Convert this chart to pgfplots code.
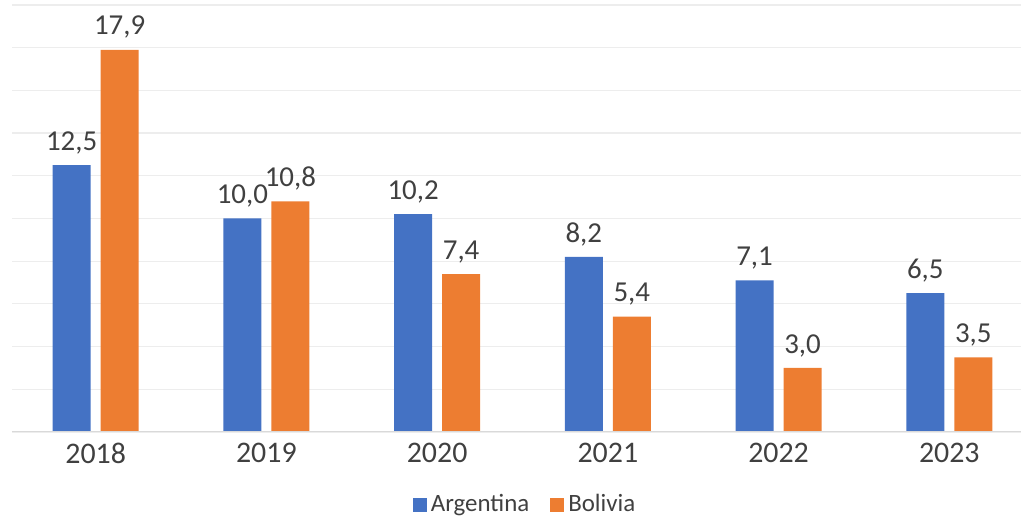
\documentclass[border=0pt]{standalone}
\usepackage{pgfplots}
\pgfplotsset{compat=1.18}
\usepackage{fontspec}
\setmainfont{Carlito}
\definecolor{argblue}{HTML}{4472C4}
\definecolor{bolorange}{HTML}{ED7D31}
\definecolor{txt}{HTML}{404040}
\definecolor{gridc}{HTML}{EDEDED}
\definecolor{base}{HTML}{D9D9D9}
\begin{document}
\begin{tikzpicture}
\begin{axis}[
  scale only axis,
  width=1009bp, height=427bp,
  xmin=-0.49, xmax=5.42,
  ymin=0, ymax=20,
  ytick={0,2,...,20},
  yticklabels={},
  xmajorgrids=false,
  ymajorgrids=true,
  y grid style={gridc, line width=1.2bp},
  major tick length=0pt,
  tick style={draw=none},
  axis line style={draw=none},
  xtick={0,1,2,3,4,5},
  xticklabels={2018,2019,2020,2021,2022,2023},
  xticklabel style={font=\fontsize{30}{33}\selectfont, text=txt, yshift=-8bp},
  ybar, bar width=38bp,
  /pgf/number format/assume math mode=true,
  nodes near coords,
  every node near coord/.append style={font=\fontsize{29}{32}\selectfont, text=txt, inner sep=0pt, yshift=11bp,
    /pgf/number format/.cd, fixed, fixed zerofill, precision=1, use comma},
  legend style={draw=none, fill=none, at={(0.508,0)}, anchor=center, yshift=-72bp,
    font=\fontsize{25}{27}\selectfont, text=txt,
    nodes={inner sep=1bp, anchor=base west},
    legend columns=2, /tikz/every even column/.append style={column sep=20bp},
    /tikz/every odd column/.append style={column sep=3bp}},
  legend image code/.code={\fill[#1] (0bp,0bp) rectangle (14bp,14bp);},
]
\addplot[fill=argblue, draw=none, bar shift=-24bp] coordinates {(0,12.5) (1,10.0) (2,10.2) (3,8.2) (4,7.1) (5,6.5)};
\addplot[fill=bolorange, draw=none, bar shift=24bp] coordinates {(0,17.9) (1,10.8) (2,7.4) (3,5.4) (4,3.0) (5,3.5)};
\legend{Argentina, Bolivia}
\draw[base, line width=1.5bp] (rel axis cs:0,0) -- (rel axis cs:1,0);
\coordinate (sw) at (rel axis cs:0,0);
\coordinate (ne) at (rel axis cs:1,1);
\end{axis}
\pgfresetboundingbox
\path[use as bounding box] ([xshift=-12bp,yshift=-88bp]sw) rectangle ([yshift=5bp]ne);
\end{tikzpicture}
\end{document}
